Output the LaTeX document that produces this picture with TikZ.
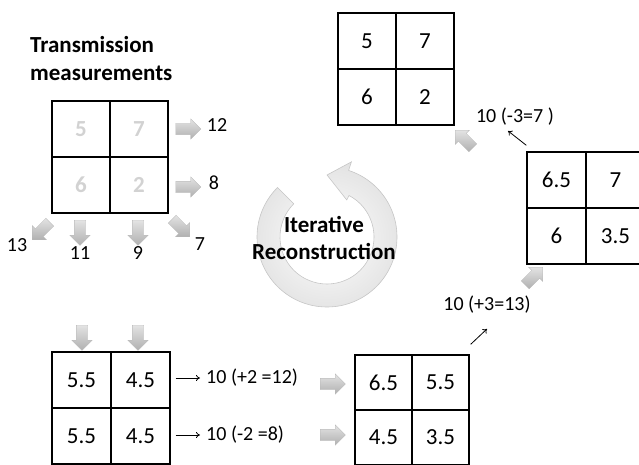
\documentclass[tikz,border=0pt]{standalone}
\usepackage{fontspec}
\setmainfont{Carlito}
\usetikzlibrary{shapes.arrows,arrows.meta}
\definecolor{faint}{HTML}{D2D2D2}
\begin{document}
\begin{tikzpicture}[x=1pt,y=-1pt,
  cell/.style={draw=black, line width=1.3pt, minimum width=58pt, minimum height=56pt, inner sep=0pt, font=\fontsize{23}{27}\selectfont},
  ghost/.style={text=faint, font=\fontsize{23}{27}\selectfont\bfseries},
  barrow/.style={single arrow, draw=gray!55, line width=0.3pt, top color=gray!22, bottom color=gray!62,
     minimum height=25pt, inner xsep=0pt, inner ysep=5.5pt, single arrow head extend=4.5pt, rotate=#1},
  lab/.style={font=\fontsize{20}{24}\selectfont, inner sep=1pt},
  thinarrow/.style={line width=0.8pt, -{To[length=4pt,width=6pt]}},
  ring/.style={draw=gray!45, line width=0.6pt, inner color=white, outer color=gray!22}
]
\useasboundingbox (0,0) rectangle (639,465);
\clip (0,0) rectangle (639,465);

% title
\node[anchor=west, align=left, inner sep=0pt, font=\fontsize{23}{28}\selectfont\bfseries] (title) at (30,59) {Transmission\\measurements};

% grid A (top-left)
\node[cell] (a11) at (81,129) {}; \node[cell] (a12) at (139,129) {};
\node[cell] (a21) at (81,185) {}; \node[cell] (a22) at (139,185) {};
\node[ghost] (g11) at (a11) {5}; \node[ghost] (g12) at (a12) {7};
\node[ghost] (g21) at (a21) {6}; \node[ghost] (g22) at (a22) {2};
\node[barrow=0] (ar1) at (185.5,129) {};
\node[barrow=0] (ar2) at (185.5,187) {};
\node[lab] (l12) at (217,125) {12};
\node[lab] (l8) at (214,183) {8};
\node[barrow=-135] (ad1) at (43,229) {};
\node[barrow=-90] (ad2) at (80,230) {};
\node[barrow=-90] (ad3) at (138,230) {};
\node[barrow=-45] (ad4) at (179,226) {};
\node[lab] (l13) at (17,245) {13};
\node[lab] (l11) at (80,253) {11};
\node[lab] (l9) at (138,253) {9};
\node[lab] (l7) at (200,244) {7};

% ring
\begin{scope}[shift={(327,237)}, yscale=-1]
\path[ring] (135:47) -- (135:70) arc[start angle=135, end angle=432, radius=70]
  -- (432:79) -- (450:62) -- (422:42) -- (422:47)
  arc[start angle=422, end angle=135, radius=47] -- cycle;
\end{scope}
\node[align=center, inner sep=0pt, font=\fontsize{23}{27}\selectfont\bfseries] (iter) at (324,238) {Iterative\\Reconstruction};

% grid B (top-right)
\node[cell] (b11) at (367,41) {5}; \node[cell] (b12) at (425,41) {7};
\node[cell] (b21) at (367,97) {6}; \node[cell] (b22) at (425,97) {2};
\node[barrow=135] (bnw) at (466,141) {};
\node[lab] (lb) at (515,117) {10 (-3=7 )};

% grid C (mid-right)
\node[cell, minimum width=59pt] (c11) at (556.5,180) {6.5}; \node[cell, minimum width=59pt] (c12) at (615.5,180) {7};
\node[cell, minimum width=59pt] (c21) at (556.5,236) {6}; \node[cell, minimum width=59pt] (c22) at (615.5,236) {3.5};
\draw[thinarrow] ([shift={(0,-6)}]c11.north west) -- ([shift={(-7,4)}]lb.south);
\node[barrow=45] (bne) at (532,278) {};
\node[lab] (ld) at (487,305) {10 (+3=13)};

% grid E (bottom-left)
\node[cell, minimum width=59pt] (e11) at (81.5,380) {5.5}; \node[cell, minimum width=59pt] (e12) at (140.5,380) {4.5};
\node[cell, minimum width=59pt] (e21) at (81.5,436) {5.5}; \node[cell, minimum width=59pt] (e22) at (140.5,436) {4.5};
\node[barrow=-90] (ae1) at (82,335) {};
\node[barrow=-90] (ae2) at (138,335) {};
\node[lab, anchor=west] (le1) at (205,378) {10 (+2 =12)};
\node[lab, anchor=west] (le2) at (205,435) {10 (-2 =8)};
\draw[thinarrow] ([shift={(5,-2)}]e12.east) -- ([shift={(-5,0)}]le1.west);
\draw[thinarrow] ([shift={(5,-1)}]e22.east) -- ([shift={(-5,0)}]le2.west);
\node[barrow=0] (ar3) at (330,384) {};
\node[barrow=0] (ar4) at (330,435) {};

% grid D (bottom-right)
\node[cell, minimum width=57pt, minimum height=55pt] (d11) at (383.5,382.5) {6.5}; \node[cell, minimum width=57pt, minimum height=55pt] (d12) at (440.5,382.5) {5.5};
\node[cell, minimum width=57pt, minimum height=55pt] (d21) at (383.5,437.5) {4.5}; \node[cell, minimum width=57pt, minimum height=55pt] (d22) at (440.5,437.5) {3.5};
\draw[thinarrow] ([shift={(1,-10)}]d12.north east) -- ([shift={(0,14)}]ld.south);
\end{tikzpicture}
\end{document}
